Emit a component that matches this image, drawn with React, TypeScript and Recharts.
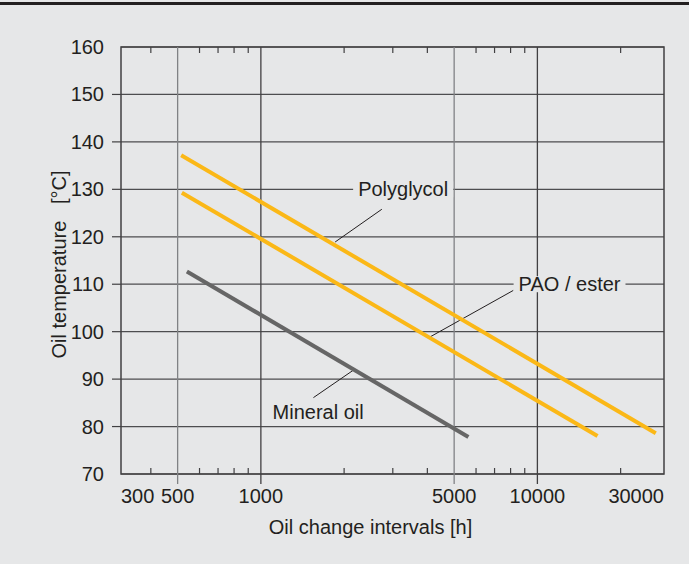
import React from 'react';
import {
  LineChart,
  Line,
  XAxis,
  YAxis,
  CartesianGrid,
  ReferenceLine,
  ReferenceArea,
  ReferenceDot,
} from 'recharts';

// ---------- data ----------
const xMin = 312;
const xMax = 28700;
const xTickValues = [xMin, 500, 1000, 5000, 10000, xMax];
const xTickLabels = ['300', '500', '1000', '5000', '10000', '30000'];
const darkGridX = [1000, 10000];
const lightGridX = [500, 5000];
const minorTicksX = [400, 600, 700, 800, 900, 2000, 3000, 4000, 6000, 7000, 8000, 9000, 20000];

const yTicks = [70, 80, 90, 100, 110, 120, 130, 140, 150, 160];

const polyglycolX = [515, 26800];
const polyglycolY = [137.2, 78.6];
const paoX = [518, 16500];
const paoY = [129.3, 78.0];
const mineralX = [540, 5630];
const mineralY = [112.7, 77.8];

const labelNames = ['Polyglycol', 'PAO / ester', 'Mineral oil'];
const labelX = [3270, 13070, 1611];
const labelY = [130, 110, 83.1];
const labelOnGrid = [true, true, false];
const leaderX1 = [2738, 8186, 1549];
const leaderY1 = [125.8, 108.7, 86.1];
const leaderX2 = [1856, 4036, 2162];
const leaderY2 = [118.9, 98.7, 91.9];

const xTitle = 'Oil change intervals [h]';
const yTitle = 'Oil temperature\u00A0\u00A0 [°C]';

// ---------- styles ----------
const BG = '#e6e7e8';
const TEXT = '#231f20';
const ORANGE = '#fbb817';
const GRAYLINE = '#666666';
const FONT = '"Liberation Sans", Arial, sans-serif';
const FS = 20;

const toPts = (xs: number[], ys: number[]) => xs.map((x, i) => ({ x, y: ys[i] }));
const polyData = toPts(polyglycolX, polyglycolY);
const paoData = toPts(paoX, paoY);
const mineralData = toPts(mineralX, mineralY);

function measure(text: string): number {
  try {
    const ctx = document.createElement('canvas').getContext('2d');
    if (ctx) {
      ctx.font = `${FS}px ${FONT}`;
      return ctx.measureText(text).width;
    }
  } catch (e) {}
  return text.length * FS * 0.5;
}

const XTick = (props: any) => {
  const { x, y, payload } = props;
  const i = xTickValues.indexOf(payload.value);
  const label = i >= 0 ? xTickLabels[i] : String(payload.value);
  const anchor = i === 0 ? 'start' : i === xTickValues.length - 1 ? 'end' : 'middle';
  return (
    <text x={x} y={y + 29} textAnchor={anchor} fill={TEXT} fontSize={FS} fontFamily={FONT}>
      {label}
    </text>
  );
};

const YTick = (props: any) => {
  const { x, y, payload } = props;
  const v = payload.value;
  const inner = v !== yTicks[0] && v !== yTicks[yTicks.length - 1];
  return (
    <g>
      {inner && <line x1={x + 8} x2={x + 17} y1={y} y2={y} stroke="#414042" strokeWidth={1.2} />}
      <text x={x} y={y} dy="0.35em" textAnchor="end" fill={TEXT} fontSize={FS} fontFamily={FONT}>
        {v}
      </text>
    </g>
  );
};

const majorShape = (color: string) => (p: any) => {
  const top = Math.min(p.y1, p.y2);
  const bot = Math.max(p.y1, p.y2);
  return <line x1={p.x1} x2={p.x2} y1={top} y2={bot + 10} stroke={color} strokeWidth={1.3} />;
};

const minorShape = (p: any) => {
  const top = Math.min(p.y1, p.y2);
  const bot = Math.max(p.y1, p.y2);
  return (
    <g>
      <line x1={p.x1} x2={p.x1} y1={top} y2={top + 6} stroke="#414042" strokeWidth={1.2} />
      <line x1={p.x1} x2={p.x1} y1={bot} y2={bot - 6} stroke="#414042" strokeWidth={1.2} />
    </g>
  );
};

const labelShape = (text: string, mask: boolean) => (p: any) => {
  const w = measure(text);
  const { cx, cy } = p;
  return (
    <g>
      {mask && <rect x={cx - w / 2 - 5} y={cy - 8} width={w + 10} height={16} fill={BG} />}
      <text x={cx} y={cy} dy="0.35em" textAnchor="middle" fill={TEXT} fontSize={FS} fontFamily={FONT}>
        {text}
      </text>
    </g>
  );
};

const YTitle = (props: any) => {
  const vb = props.viewBox || { x: 21, y: 47, width: 100, height: 427 };
  const cx = vb.x + 45;
  const cy = vb.y + vb.height / 2 + 4;
  return (
    <text
      x={cx}
      y={cy}
      textAnchor="middle"
      transform={`rotate(-90, ${cx}, ${cy})`}
      fill={TEXT}
      fontSize={FS}
      fontFamily={FONT}
      style={{ whiteSpace: 'pre' }}
    >
      {yTitle}
    </text>
  );
};

const XTitle = (props: any) => {
  const vb = props.viewBox || { x: 121, y: 474, width: 543, height: 60 };
  const cx = vb.x + vb.width / 2 - 22;
  return (
    <text x={cx} y={vb.y + 60} textAnchor="middle" fill={TEXT} fontSize={FS} fontFamily={FONT}>
      {xTitle}
    </text>
  );
};

export default function App() {
  return (
    <div
      style={{
        position: 'absolute',
        left: 0,
        top: 0,
        width: 689,
        height: 564,
        background: BG,
        overflow: 'hidden',
      }}
    >
      <div style={{ position: 'absolute', left: 0, top: 2, width: 689, height: 3, background: TEXT }} />
      <LineChart width={689} height={564} margin={{ top: 47, right: 25, bottom: 30, left: 21 }}>
        <CartesianGrid vertical={false} stroke="#4d4d4f" strokeWidth={1.2} />
        <XAxis
          dataKey="x"
          type="number"
          scale="log"
          domain={[xMin, xMax]}
          allowDataOverflow
          ticks={xTickValues}
          tick={<XTick />}
          tickLine={false}
          axisLine={false}
          tickSize={0}
          tickMargin={0}
          height={60}
          interval={0}
          label={<XTitle />}
        />
        <YAxis
          type="number"
          domain={[70, 160]}
          ticks={yTicks}
          tick={<YTick />}
          tickLine={false}
          axisLine={false}
          tickSize={9}
          tickMargin={8}
          width={100}
          interval={0}
          label={<YTitle />}
        />
        {lightGridX.map((v) => (
          <ReferenceLine key={'lg' + v} x={v} stroke="#808285" shape={majorShape('#808285')} />
        ))}
        {darkGridX.map((v) => (
          <ReferenceLine key={'dg' + v} x={v} stroke="#414042" shape={majorShape('#414042')} />
        ))}
        {minorTicksX.map((v) => (
          <ReferenceLine key={'mt' + v} x={v} stroke="#414042" shape={minorShape} />
        ))}
        <ReferenceArea
          x1={xMin}
          x2={xMax}
          y1={70}
          y2={160}
          fill="none"
          fillOpacity={0}
          stroke="#414042"
          strokeWidth={1.5}
          ifOverflow="visible"
        />
        {labelNames.map((name, i) => (
          <ReferenceDot
            key={'lb' + i}
            x={labelX[i]}
            y={labelY[i]}
            r={0}
            shape={labelShape(name, labelOnGrid[i])}
          />
        ))}
        {labelNames.map((name, i) => (
          <ReferenceLine
            key={'ld' + i}
            segment={[
              { x: leaderX1[i], y: leaderY1[i] },
              { x: leaderX2[i], y: leaderY2[i] },
            ]}
            stroke={TEXT}
            strokeWidth={1}
          />
        ))}
        <Line
          data={polyData}
          dataKey="y"
          stroke={ORANGE}
          strokeWidth={4}
          strokeLinecap="butt"
          dot={false}
          activeDot={false}
          isAnimationActive={false}
        />
        <Line
          data={paoData}
          dataKey="y"
          stroke={ORANGE}
          strokeWidth={4}
          strokeLinecap="butt"
          dot={false}
          activeDot={false}
          isAnimationActive={false}
        />
        <Line
          data={mineralData}
          dataKey="y"
          stroke={GRAYLINE}
          strokeWidth={4}
          strokeLinecap="butt"
          dot={false}
          activeDot={false}
          isAnimationActive={false}
        />
      </LineChart>
    </div>
  );
}
